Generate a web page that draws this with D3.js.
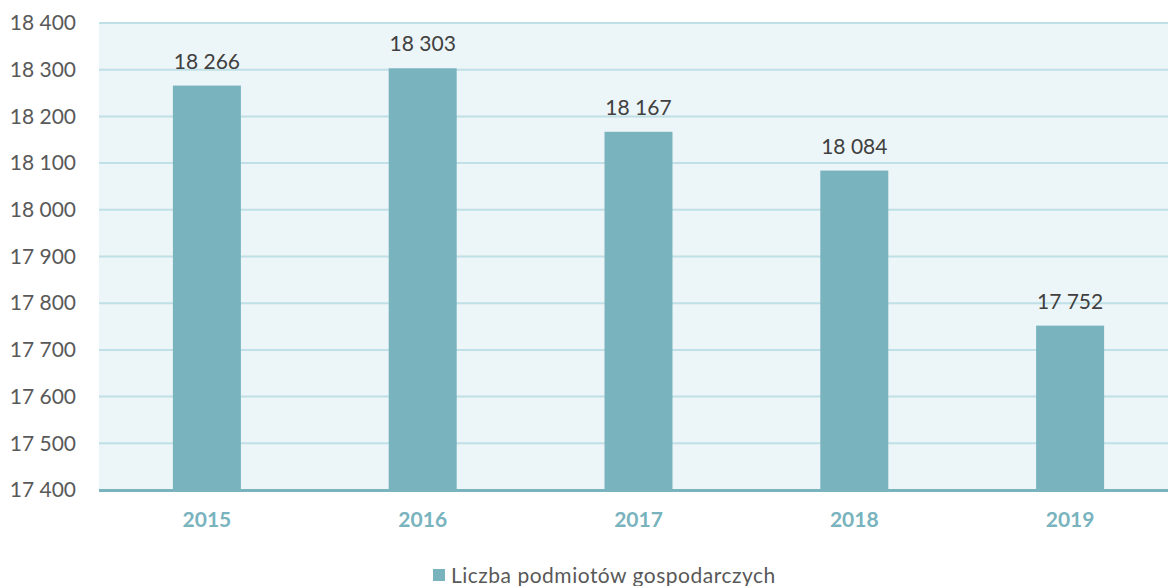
<!DOCTYPE html>
<html><head><meta charset="utf-8">
<script src="https://cdn.jsdelivr.net/npm/d3@7"></script>
<style>body{margin:0;background:#fff}svg{display:block}text{font-family:Lato,"Open Sans",sans-serif}</style>
</head><body>
<svg id="c" width="1168" height="586"></svg>
<script>
const categories = ["2015","2016","2017","2018","2019"];
const values = [18266,18303,18167,18084,17752];
const yTicks = [17400,17500,17600,17700,17800,17900,18000,18100,18200,18300,18400];
const seriesName = "Liczba podmiotów gospodarczych";

const svg = d3.select("#c");
const L = 99, R = 1178, T = 23, B = 490;
const fmt = v => d3.format(",")(v).replace(/,/g, " ");
const x = d3.scaleBand().domain(categories).range([L, R]).padding(0);
const y = d3.scaleLinear().domain([17400, 18400]).range([B, T]);

svg.append("rect").attr("x", L).attr("y", T).attr("width", R - L).attr("height", B - T).attr("fill", "#ecf5f7");
svg.append("g").selectAll("line").data(yTicks.slice(1)).join("line")
  .attr("x1", L).attr("x2", R).attr("y1", d => y(d)).attr("y2", d => y(d))
  .attr("stroke", "#bfe0e6").attr("stroke-width", 2);

const bw = x.bandwidth() * 0.315;
svg.append("g").selectAll("rect").data(values).join("rect")
  .attr("x", (d, i) => x(categories[i]) + x.bandwidth() / 2 - bw / 2)
  .attr("y", d => y(d)).attr("width", bw).attr("height", d => B - y(d))
  .attr("fill", "#78b3be");

svg.append("line").attr("x1", L).attr("x2", R).attr("y1", B + 0.5).attr("y2", B + 0.5)
  .attr("stroke", "#78b3be").attr("stroke-width", 3);

svg.append("g").selectAll("text").data(values).join("text")
  .attr("x", (d, i) => x(categories[i]) + x.bandwidth() / 2)
  .attr("y", d => y(d) - 17).attr("text-anchor", "middle")
  .attr("font-size", 21).attr("fill", "#404040").text(d => fmt(d));

const yAxis = svg.append("g").attr("transform", `translate(${L - 23},0)`)
  .call(d3.axisLeft(y).tickValues(yTicks).tickFormat(fmt).tickSize(0).tickPadding(0));
yAxis.select(".domain").remove();
yAxis.selectAll("text").attr("font-size", 21).attr("fill", "#595959").attr("font-family", "Lato,'Open Sans',sans-serif");

const xAxis = svg.append("g").attr("transform", `translate(0,${B})`)
  .call(d3.axisBottom(x).tickSize(0).tickPadding(22));
xAxis.select(".domain").remove();
xAxis.selectAll("text").attr("font-size", 21).attr("font-weight", "bold").attr("fill", "#78b3be").attr("font-family", "Lato,'Open Sans',sans-serif");

const lg = svg.append("g");
lg.append("rect").attr("x", 433).attr("y", 569).attr("width", 12).attr("height", 12).attr("fill", "#78b3be");
lg.append("text").attr("x", 451).attr("y", 583).attr("font-size", 21).attr("letter-spacing", 0.5).attr("fill", "#595959").text(seriesName);
</script>
</body></html>
